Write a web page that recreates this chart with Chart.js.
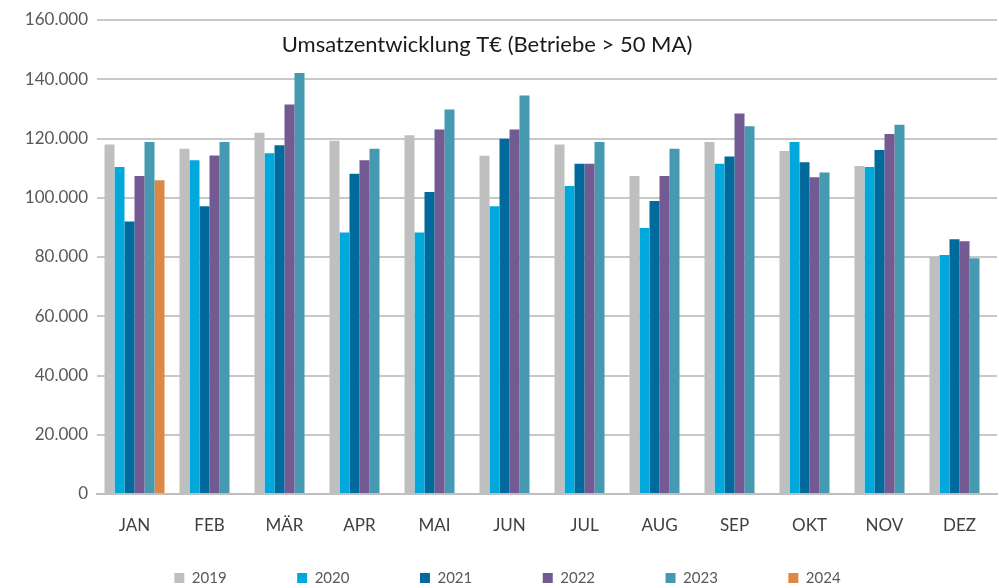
<!DOCTYPE html>
<html>
<head>
<meta charset="utf-8">
<script src="https://cdn.jsdelivr.net/npm/chart.js@4.4.1/dist/chart.umd.min.js"></script>
<style>
  html, body { margin: 0; padding: 0; background: #fff; }
  #wrap { width: 999px; height: 588px; position: relative; }
</style>
</head>
<body>
<div id="wrap"><canvas id="umsatz-chart"></canvas></div>
<script>
// Werte in T€
const months = ["JAN", "FEB", "MÄR", "APR", "MAI", "JUN", "JUL", "AUG", "SEP", "OKT", "NOV", "DEZ"];
const years = ["2019", "2020", "2021", "2022", "2023", "2024"];
const yearColors = ["#BFBFBF", "#00A8DC", "#006A9C", "#735A92", "#4599B0", "#DD8844"];

const values2019 = [118000, 116500, 121900, 119200, 121100, 114200, 118000, 107300, 118800, 115800, 110700, 80000];
const values2020 = [110400, 112700, 115000, 88300, 88300, 97100, 104000, 89800, 111500, 118800, 110400, 80700];
const values2021 = [92000, 97100, 117700, 108100, 101900, 119900, 111500, 98900, 113900, 112000, 116100, 86000];
const values2022 = [107300, 114300, 131500, 112700, 123000, 123000, 111500, 107300, 128400, 106900, 121500, 85300];
const values2023 = [118800, 118800, 142100, 116500, 129800, 134500, 118800, 116500, 124100, 108500, 124600, 79600];
const values2024 = [105900, null, null, null, null, null, null, null, null, null, null, null];

const yTicks = [0, 20000, 40000, 60000, 80000, 100000, 120000, 140000, 160000];
const chartTitle = "Umsatzentwicklung T€ (Betriebe > 50 MA)";

const allValues = [values2019, values2020, values2021, values2022, values2023, values2024];
const FONT = "Lato, 'Open Sans', sans-serif";

const formatDe = (v) => {
    if (v === 0) return "0";
    return String(Math.round(v)).replace(/\B(?=(\d{3})+(?!\d))/g, ".");
};

// Titel liegt im Diagrammbereich
const innerTitle = {
    id: "innerTitle",
    afterDraw(chart) {
        const { ctx, chartArea } = chart;
        ctx.save();
        ctx.font = "22px " + FONT;
        ctx.fillStyle = "#1a1a1a";
        ctx.textAlign = "center";
        ctx.textBaseline = "middle";
        ctx.fillText(chartTitle, 487, chartArea.top + 25);
        ctx.restore();
    }
};

// Legende: breite Abstaende zwischen den Eintraegen, aber flache Box
const LEGEND_H = 30;
const LEGEND_Y = 578;
const LEGEND_DX = 9;
const legendFix = {
    id: "legendFix",
    afterInit(chart) {
        const lg = chart.legend;
        if (!lg) return;
        const fit = lg.fit.bind(lg);
        lg.fit = function () {
            fit();
            this.height = LEGEND_H;
        };
        const innerDraw = lg._draw.bind(lg);
        lg._draw = function () {
            const pad = this.options.labels.padding;
            const size = this.options.labels.font.size;
            const shift = LEGEND_Y - (this.top + pad + size / 2);
            chart.ctx.save();
            chart.ctx.translate(LEGEND_DX, shift);
            innerDraw();
            chart.ctx.restore();
        };
    }
};

const chartConfig = {
    type: "bar",
    data: {
        labels: months,
        datasets: years.map((y, i) => ({
            label: y,
            data: allValues[i],
            backgroundColor: yearColors[i],
            borderWidth: 0,
            categoryPercentage: 0.8,
            barPercentage: 1.0,
        })),
    },
    options: {
        responsive: true,
        maintainAspectRatio: false,
        animation: false,
        layout: { padding: { top: 20, right: 2, left: 0, bottom: 0 } },
        scales: {
            x: {
                grid: { display: false, drawTicks: false },
                border: { display: true, color: "#BFBFBF", width: 2 },
                ticks: {
                    color: "#404040",
                    font: { family: FONT, size: 17 },
                    padding: 21,
                },
                afterFit: (scale) => { scale.height = 64; },
            },
            y: {
                min: 0,
                max: 160000,
                afterBuildTicks: (scale) => { scale.ticks = yTicks.map((v) => ({ value: v })); },
                grid: { color: "#C8C8C8", lineWidth: 2, drawTicks: false },
                border: { display: false },
                ticks: {
                    color: "#595959",
                    font: { family: FONT, size: 17 },
                    padding: 9,
                    callback: (v) => formatDe(v),
                },
                afterFit: (scale) => { scale.width = 97; },
            },
        },
        plugins: {
            legend: {
                position: "bottom",
                labels: {
                    boxWidth: 10,
                    boxHeight: 10,
                    padding: 70.5,
                    color: "#595959",
                    font: { family: FONT, size: 15 },
                },
            },
            tooltip: { enabled: false },
        },
    },
    plugins: [legendFix, innerTitle],
};

const ctx = document.getElementById("umsatz-chart").getContext("2d");
new Chart(ctx, chartConfig);
</script>
</body>
</html>
